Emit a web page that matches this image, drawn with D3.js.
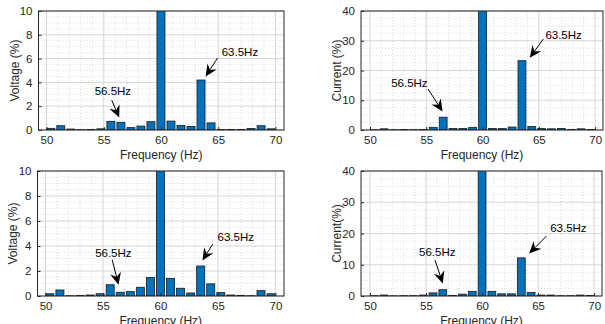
<!DOCTYPE html>
<html>
<head>
<meta charset="utf-8">
<script src="https://cdn.jsdelivr.net/npm/d3@7"></script>
<style>
  body { margin: 0; background: #fff; }
  svg { display: block; font-family: "Liberation Sans", Arial, sans-serif; }
  .tick text { fill: #262626; font-size: 11.5px; }
  .axis-label { fill: #262626; font-size: 12px; }
  .note { fill: #000; font-size: 11.5px; }
</style>
</head>
<body>
<div id="chart"></div>
<script>
// frequency bins (Hz)
var freqs = [50.375, 51.25, 52.125, 53, 53.875, 54.75, 55.625, 56.5, 57.375, 58.25, 59.125, 60,
  60.875, 61.75, 62.625, 63.5, 64.375, 65.25, 66.125, 67, 67.875, 68.75, 69.625];

// spectra, % of fundamental
var voltageTop = [0.14, 0.36, 0.08, 0.03, 0.05, 0.1, 0.73, 0.65, 0.2, 0.33, 0.7, 100,
  0.75, 0.38, 0.3, 4.2, 0.6, 0.05, 0.04, 0.05, 0.13, 0.36, 0.1];
var currentTop = [0.1, 0.4, 0.1, 0.2, 0.1, 0.2, 0.9, 4.3, 0.5, 0.5, 0.9, 100,
  0.5, 0.5, 1.0, 23.3, 1.2, 0.5, 0.4, 0.5, 0.2, 0.4, 0.2];
var voltageBottom = [0.18, 0.48, 0.02, 0.05, 0.08, 0.18, 0.9, 0.3, 0.35, 0.7, 1.48, 100,
  1.4, 0.62, 0.24, 2.4, 0.97, 0.27, 0.08, 0.05, 0.02, 0.43, 0.18];
var currentBottom = [0.1, 0.3, 0.05, 0.1, 0.1, 0.3, 1.0, 2.0, 0.2, 0.6, 1.5, 100,
  1.5, 0.7, 0.7, 12.2, 1.1, 0.3, 0.3, 0.1, 0.1, 0.3, 0.2];

var xTicks = [50, 55, 60, 65, 70];
var voltTicks = [0, 2, 4, 6, 8, 10];
var currTicks = [0, 10, 20, 30, 40];

var svgWidth = 605;
var svgHeight = 324;
var binWidth = 0.875;

var svg = d3.select("#chart").append("svg")
  .attr("width", svgWidth)
  .attr("height", svgHeight);

var panels = [
  { id: "p1", values: voltageTop, left: 38.5, right: 284, top: 11, bottom: 130,
    xDomain: [49.3, 70.75], yMax: 10, yTicks: voltTicks, yMinor: 0.5, label: "Voltage (%)", labelX: 15,
    notes: [
      { text: "56.5Hz", tx: 55.8, ty: 3.3, from: [55.7, 2.5], to: [56.35, 1.05] },
      { text: "63.5Hz", tx: 66.9, ty: 6.55, from: [64.95, 6.05], to: [63.9, 4.5] }
    ] },
  { id: "p2", values: currentTop, left: 361, right: 603, top: 11, bottom: 130,
    xDomain: [49.2, 70.7], yMax: 40, yTicks: currTicks, yMinor: 2.5, label: "Current (%)", labelX: 337,
    notes: [
      { text: "56.5Hz", tx: 53.5, ty: 15.8, from: [55.15, 13.8], to: [56.45, 6.2] },
      { text: "63.5Hz", tx: 67.2, ty: 31.9, from: [65.4, 30.6], to: [64.2, 24.3] }
    ] },
  { id: "p3", values: voltageBottom, left: 37.5, right: 284, top: 171, bottom: 296,
    xDomain: [49.3, 70.75], yMax: 10, yTicks: voltTicks, yMinor: 0.5, label: "Voltage (%)", labelX: 13,
    notes: [
      { text: "56.5Hz", tx: 55.9, ty: 3.45, from: [55.8, 2.9], to: [56.35, 0.9] },
      { text: "63.5Hz", tx: 66.55, ty: 4.75, from: [64.55, 4.15], to: [63.65, 2.85] }
    ] },
  { id: "p4", values: currentBottom, left: 361, right: 602, top: 171, bottom: 296,
    xDomain: [49.2, 70.7], yMax: 40, yTicks: currTicks, yMinor: 2.5, label: "Current(%)", labelX: 337,
    notes: [
      { text: "56.5Hz", tx: 56.0, ty: 14.1, from: [55.8, 11.5], to: [56.5, 4.0] },
      { text: "63.5Hz", tx: 67.7, ty: 21.8, from: [65.75, 19.2], to: [64.2, 13.6] }
    ] }
];

// arrow head like matlab's vback2
function arrowHead(x1, y1, x2, y2) {
  var ang = Math.atan2(y2 - y1, x2 - x1);
  var len = 12, half = 5.5, notch = 8;
  var c = Math.cos(ang), s = Math.sin(ang);
  function pt(a, b) { return [x2 - a * c + b * s, y2 - a * s - b * c]; }
  return [pt(0, 0), pt(len, half), pt(notch, 0), pt(len, -half)];
}

panels.forEach(function(p) {
  var width = p.right - p.left;
  var height = p.bottom - p.top;

  var x = d3.scaleLinear().domain(p.xDomain).range([0, width]);
  var y = d3.scaleLinear().domain([0, p.yMax]).range([height, 0]);

  var g = svg.append("g").attr("transform", `translate(${p.left}, ${p.top})`);

  g.append("clipPath").attr("id", "clip-" + p.id)
    .append("rect").attr("width", width).attr("height", height);

  // minor grid, dotted
  var xMinor = d3.range(50, 71, 1).filter(d => xTicks.indexOf(d) < 0);
  var yMinor = d3.range(0, p.yMax, p.yMinor).filter(d => p.yTicks.indexOf(d) < 0);
  g.append("g").selectAll("line").data(xMinor).enter().append("line")
    .attr("x1", d => x(d)).attr("x2", d => x(d)).attr("y1", 0).attr("y2", height)
    .attr("stroke", "#cfcfcf").attr("stroke-width", 0.7).attr("stroke-dasharray", "1,2");
  g.append("g").selectAll("line").data(yMinor).enter().append("line")
    .attr("x1", 0).attr("x2", width).attr("y1", d => y(d)).attr("y2", d => y(d))
    .attr("stroke", "#cfcfcf").attr("stroke-width", 0.7).attr("stroke-dasharray", "1,2");

  // major grid
  g.append("g").selectAll("line").data(xTicks).enter().append("line")
    .attr("x1", d => x(d)).attr("x2", d => x(d)).attr("y1", 0).attr("y2", height)
    .attr("stroke", "#d6d6d6").attr("stroke-width", 1);
  g.append("g").selectAll("line").data(p.yTicks).enter().append("line")
    .attr("x1", 0).attr("x2", width).attr("y1", d => y(d)).attr("y2", d => y(d))
    .attr("stroke", "#d6d6d6").attr("stroke-width", 1);

  // bars
  var bw = x(p.xDomain[0] + binWidth * 0.8) - x(p.xDomain[0]);
  g.append("g").attr("clip-path", `url(#clip-${p.id})`)
    .selectAll("rect").data(p.values).enter().append("rect")
    .attr("x", (d, i) => x(freqs[i]) - bw / 2)
    .attr("y", d => y(d))
    .attr("width", bw)
    .attr("height", d => height - y(d))
    .attr("fill", "#0072BD")
    .attr("stroke", "#1a1a1a")
    .attr("stroke-width", 0.8);

  // axes
  var bottomAxis = d3.axisBottom(x).tickValues(xTicks).tickSizeInner(-3).tickSizeOuter(0).tickPadding(6);
  var leftAxis = d3.axisLeft(y).tickValues(p.yTicks).tickSizeInner(-3).tickSizeOuter(0).tickPadding(6);

  var xAxis = g.append("g").attr("transform", `translate(0, ${height})`).call(bottomAxis);
  var yAxis = g.append("g").call(leftAxis);
  [xAxis, yAxis].forEach(function(a) {
    a.select(".domain").remove();
    a.selectAll(".tick line").attr("stroke", "#262626");
  });

  // box
  g.append("rect").attr("width", width).attr("height", height)
    .attr("fill", "none").attr("stroke", "#262626").attr("stroke-width", 1);

  // labels
  g.append("text").attr("class", "axis-label")
    .attr("x", width / 2).attr("y", height + 29)
    .attr("text-anchor", "middle")
    .text("Frequency (Hz)");

  svg.append("text").attr("class", "axis-label")
    .attr("transform", `translate(${p.labelX}, ${p.top + height / 2}) rotate(-90)`)
    .attr("text-anchor", "middle")
    .attr("dy", "0.35em")
    .text(p.label);

  // annotations
  p.notes.forEach(function(n) {
    g.append("text").attr("class", "note")
      .attr("x", x(n.tx)).attr("y", y(n.ty))
      .attr("text-anchor", "middle").attr("dy", "0.35em")
      .text(n.text);
    var x1 = x(n.from[0]), y1 = y(n.from[1]), x2 = x(n.to[0]), y2 = y(n.to[1]);
    var head = arrowHead(x1, y1, x2, y2);
    g.append("line")
      .attr("x1", x1).attr("y1", y1).attr("x2", head[2][0]).attr("y2", head[2][1])
      .attr("stroke", "#000").attr("stroke-width", 1);
    g.append("polygon")
      .attr("points", head.map(d => d.join(",")).join(" "))
      .attr("fill", "#000");
  });
});
</script>
</body>
</html>
